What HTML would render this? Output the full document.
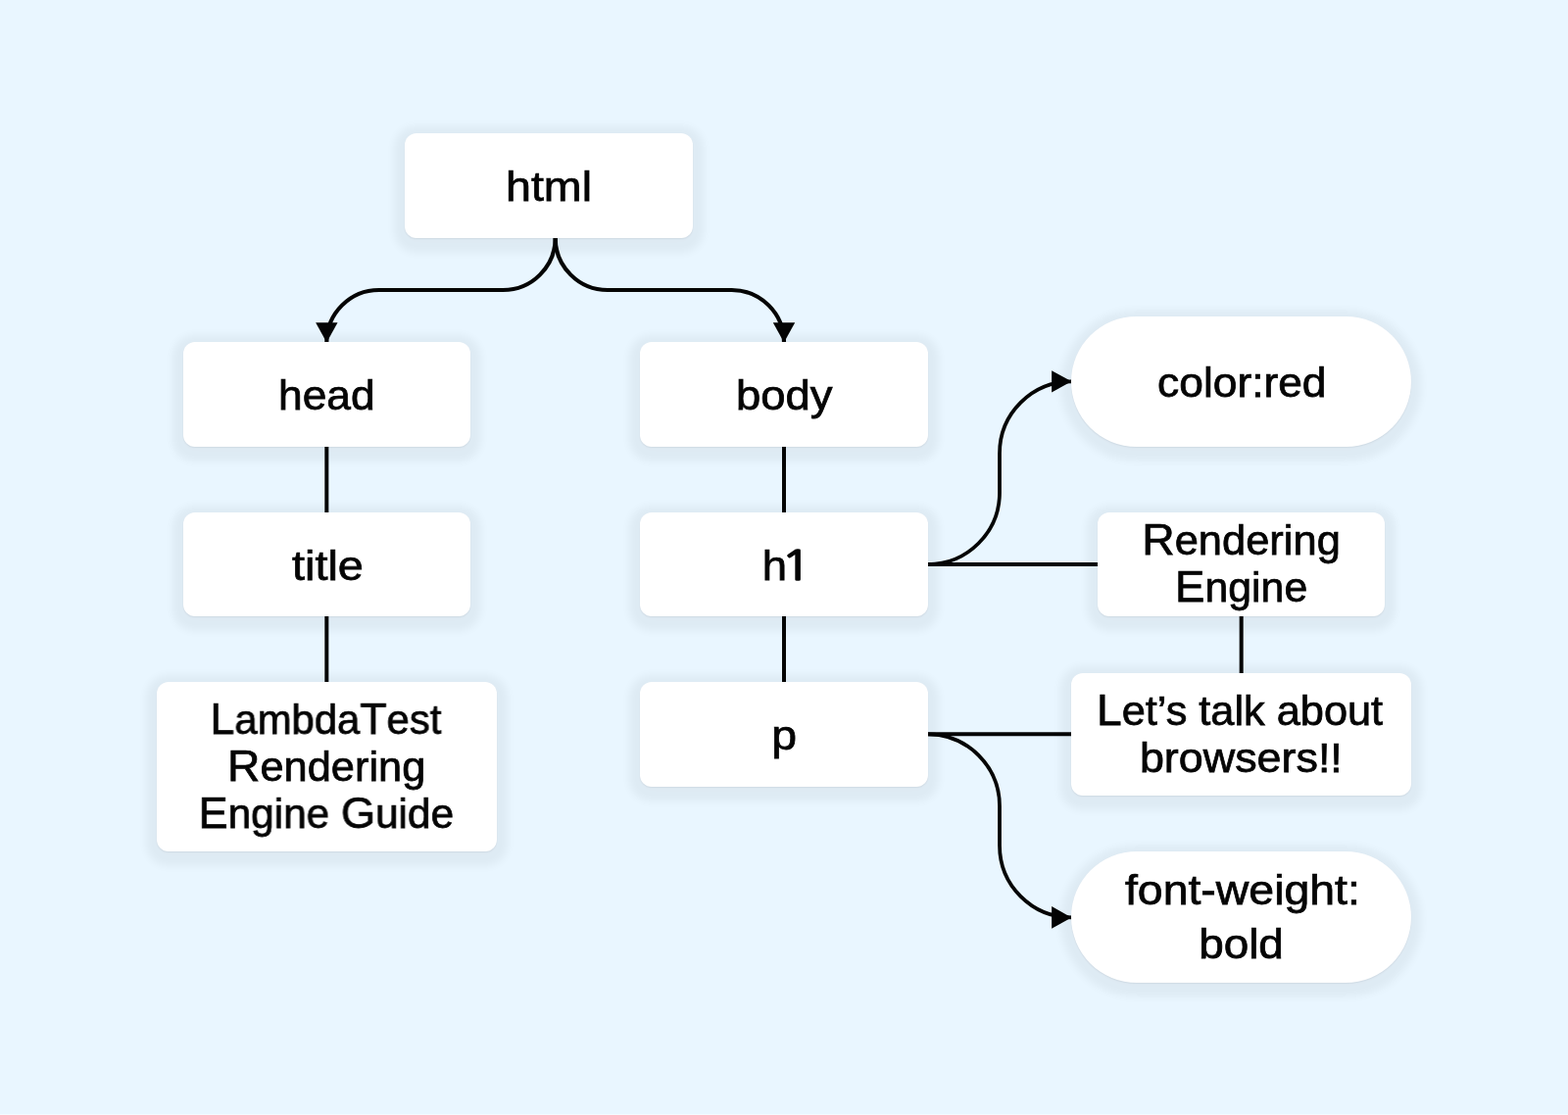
<!DOCTYPE html>
<html lang="en">
<head>
<meta charset="utf-8">
<title>LambdaTest Rendering Engine Guide</title>
<style>
  html, body { margin: 0; padding: 0; }
  body {
    width: 1600px; height: 1138px; overflow: hidden;
    background: #e9f6ff;
    font-family: "Liberation Sans", Arial, Helvetica, sans-serif;
    color: #050505;
  }
  .stage { position: relative; width: 1600px; height: 1138px; overflow: hidden; background: #e9f6ff; }
  .node {
    position: absolute; box-sizing: border-box;
    background: #fff;
    border-radius: 12px;
    box-shadow: 0 4px 8px 10.5px rgba(0,5,10,0.046), 0 1px 1.5px rgba(20,20,30,0.07);
  }
  .pill { border-radius: 70px; }
  .ln {
    position: absolute; left: 0; width: 100%;
    margin: 0; padding: 0;
    text-align: center; white-space: nowrap;
    font-size: 42.5px; line-height: 48px; height: 48px;
    font-weight: 400;
    -webkit-text-stroke: 0.75px #050505;
    transform-origin: 50% 50%;
    will-change: transform;
  }
  .d { font-family: "NanumGothic", "Liberation Sans", sans-serif; font-size: 0.975em; line-height: 1; -webkit-text-stroke-width: 1.6px; margin-left: -3.6px; display: inline-block; transform: scaleX(1.17); transform-origin: 50% 50%; }
  .c { font-size: 1.065em; line-height: 0; }
  .edge { position: absolute; left: 0; top: 1137px; width: 1600px; height: 1px; background: rgba(255,255,255,0.5); }
  svg.wires { position: absolute; left: 0; top: 0; width: 1600px; height: 1138px; overflow: visible; }
  svg.wires .w { fill: none; stroke: #050505; stroke-width: 4; stroke-linecap: butt; }
  svg.wires .w.c { stroke-width: 3.75; }
  svg.wires .w.t { stroke-width: 4.15; }
  svg.wires .a { fill: #050505; stroke: none; }
</style>
</head>
<body>
<div class="stage">
  <svg class="wires" viewBox="0 0 1600 1138" aria-hidden="true">
    <path class="w t" d="M566.670 241 V242.670 A53.330 53.330 0 0 1 513.330 296 H386.670 A53.330 53.330 0 0 0 333.330 349.330"/>
    <path class="w t" d="M566.670 241 V242.670 A53.330 53.330 0 0 0 620 296 H746.670 A53.330 53.330 0 0 1 800 349.330"/>
    <path class="a" d="M322.130 329.200 H344.530 L333.330 349.400 Z"/>
    <path class="a" d="M788.800 329.200 H811.200 L800 349.400 Z"/>
    <path class="w" d="M333.330 455 V524"/>
    <path class="w" d="M333.330 628 V697"/>
    <path class="w" d="M800 455 V524"/>
    <path class="w" d="M800 628 V697"/>
    <path class="w" d="M945 576 H1121"/>
    <path class="w" d="M945 749.330 H1095"/>
    <path class="w" d="M1266.670 628 V688"/>
    <path class="w c" d="M945 576 H946.670 A73.330 73.330 0 0 0 1020 502.670 V462.670 A73.330 73.330 0 0 1 1093.330 389.330"/>
    <path class="w c" d="M945 749.330 H946.670 A73.330 73.330 0 0 1 1020 822.670 V863.070 A73.330 73.330 0 0 0 1093.330 936.400"/>
    <path class="a" d="M1073.100 378.130 V400.530 L1093.400 389.330 Z"/>
    <path class="a" d="M1073.100 925.100 V947.700 L1093.400 936.400 Z"/>
  </svg>
  <div class="node" id="b-html" style="left:413.33px;top:136.00px;width:293.34px;height:106.67px;">
    <div class="ln" style="top:30.75px;transform:translate(0.32px,0.00px) scaleX(1.0963);">html</div>
  </div>
  <div class="node" id="b-head" style="left:186.67px;top:349.33px;width:293.33px;height:106.67px;">
    <div class="ln" style="top:30.42px;transform:translate(-0.34px,0.00px) scaleX(1.0428);">head</div>
  </div>
  <div class="node" id="b-body" style="left:653.33px;top:349.33px;width:293.34px;height:106.67px;">
    <div class="ln" style="top:30.42px;transform:translate(0.67px,0.00px) scaleX(1.0691);">body</div>
  </div>
  <div class="node" id="b-title" style="left:186.67px;top:522.67px;width:293.33px;height:106.66px;">
    <div class="ln" style="top:31.08px;transform:translate(0.77px,0.00px) scaleX(1.1036);">title</div>
  </div>
  <div class="node" id="b-h1" style="left:653.33px;top:522.67px;width:293.34px;height:106.66px;">
    <div class="ln" style="top:31.08px;transform:translate(2.20px,0.00px) scaleX(1.0700);">h<span class="d">1</span></div>
  </div>
  <div class="node" id="b-lt" style="left:160.00px;top:696.00px;width:346.67px;height:173.33px;">
    <div class="ln" style="top:14.75px;transform:translate(-0.86px,0.00px) scaleX(0.9849);"><span class="c">L</span>ambda<span class="c">T</span>est</div>
    <div class="ln" style="top:62.75px;transform:translate(-0.12px,0.00px) scaleX(1.0209);"><span class="c">R</span>endering</div>
    <div class="ln" style="top:110.75px;transform:translate(-0.50px,0.00px) scaleX(0.9959);"><span class="c">E</span>ngine <span class="c">G</span>uide</div>
  </div>
  <div class="node" id="b-p" style="left:653.33px;top:696.00px;width:293.34px;height:106.67px;">
    <div class="ln" style="top:30.75px;transform:translate(0.41px,0.00px) scaleX(1.0903);">p</div>
  </div>
  <div class="node pill" id="b-cr" style="left:1093.33px;top:322.67px;width:346.67px;height:133.33px;">
    <div class="ln" style="top:44.08px;transform:translate(0.99px,0.00px) scaleX(1.0426);">color:red</div>
  </div>
  <div class="node" id="b-re" style="left:1120.00px;top:522.67px;width:293.33px;height:106.66px;">
    <div class="ln" style="top:5.08px;transform:translate(-0.11px,0.00px) scaleX(1.0226);"><span class="c">R</span>endering</div>
    <div class="ln" style="top:53.08px;transform:translate(-0.03px,0.00px) scaleX(1.0072);"><span class="c">E</span>ngine</div>
  </div>
  <div class="node" id="b-ltb" style="left:1093.33px;top:686.67px;width:346.67px;height:125.33px;">
    <div class="ln" style="top:15.08px;transform:translate(-1.24px,0.00px) scaleX(1.0192);"><span class="c">L</span>et’s talk about</div>
    <div class="ln" style="top:63.08px;transform:translate(0.03px,0.00px) scaleX(1.0557);">browsers!!</div>
  </div>
  <div class="node pill" id="b-fw" style="left:1093.33px;top:869.33px;width:346.67px;height:133.34px;">
    <div class="ln" style="top:15.42px;transform:translate(1.61px,0.00px) scaleX(1.0923);">font-weight:</div>
    <div class="ln" style="top:70.42px;transform:translate(0.18px,0.00px) scaleX(1.0789);">bold</div>
  </div>
  <div class="edge"></div>
</div>
</body>
</html>
